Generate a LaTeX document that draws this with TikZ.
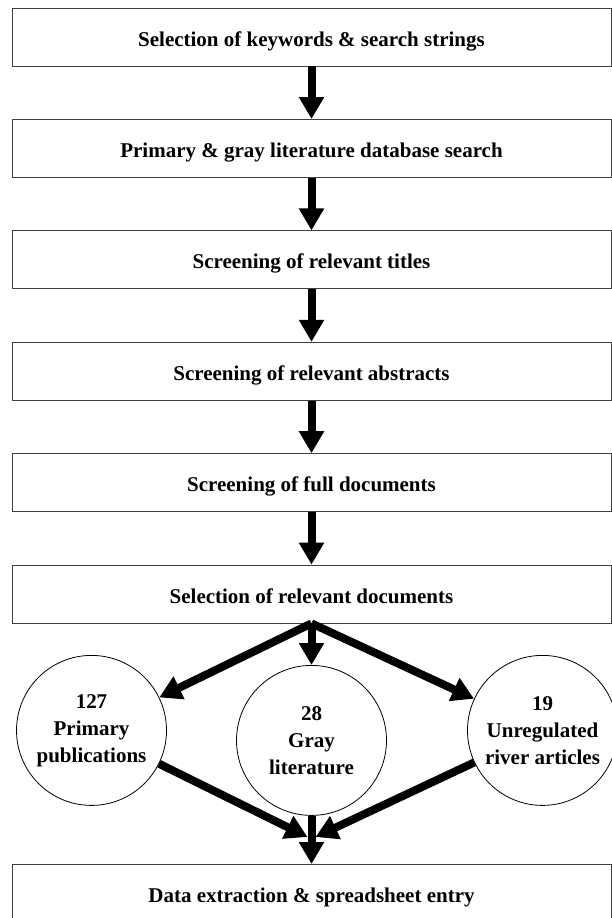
\documentclass[tikz,border=0pt]{standalone}
\usepackage{fontspec}
\setmainfont{Liberation Serif}
\usepackage{tikz}
\usetikzlibrary{arrows.meta,positioning,calc}
\tikzstyle{stage} = [draw=black!75, line width=0.8pt, fill=white,
  minimum width=599pt, minimum height=58pt, text centered,
  text height=20pt, text depth=2pt,
  font=\bfseries\fontsize{21}{26}\selectfont]
\tikzstyle{pool} = [circle, draw, line width=0.8pt, fill=white,
  minimum size=150pt, inner sep=0pt, align=center,
  font=\bfseries\fontsize{21}{27}\selectfont]
\tikzstyle{line} = [draw, line width=8pt, -{Triangle[width=24pt,length=22pt]}]
\newcommand{\stage}[2]{node (s#1)[stage]{#2}}

\begin{document}
\begin{tikzpicture}[x=1pt,y=1pt]

  \useasboundingbox (0,0) rectangle (612,-918);

  % Draw diagram elements

  \path (311.5,-37) \stage{1}{Selection of keywords \& search strings};
  \path (s1.south)+(0,-82pt) \stage{2}{Primary \& gray literature database search};
  \path (s2.south)+(0,-82pt) \stage{3}{Screening of relevant titles};
  \path (s3.south)+(0,-82pt) \stage{4}{Screening of relevant abstracts};
  \path (s4.south)+(0,-82pt) \stage{5}{Screening of full documents};
  \path (s5.south)+(0,-82pt) \stage{6}{Selection of relevant documents};

  \path (s6.south)+(-220pt,-104pt) node (c1)[pool, yshift=-3pt] {127\\Primary\\publications};
  \path (s6.south)+(0pt,-117pt) node (c2)[pool] {28\\Gray\\literature};
  \path (s6.south)+(231pt,-104pt) node (c3)[pool, yshift=-3pt] {19\\Unregulated\\river articles};

  \path (s6.south)+(0,-270pt) \stage{7}{Data extraction \& spreadsheet entry};
  \coordinate (jn) at ($(s7.north)+(0,27pt)$);

  % Draw arrows between elements

  \path [line] (s1.south) -- (s2);
  \path [line] (s2.south) -- (s3);
  \path [line] (s3.south) -- (s4);
  \path [line] (s4.south) -- (s5);
  \path [line] (s5.south) -- (s6);

  \path [line] (s6.south) -- (c1);
  \path [line] (s6.south) -- (c2);
  \path [line] (s6.south) -- (c3);

  \path [line] (c1) -- ([xshift=-4pt]jn);
  \path [line] (c3) -- ([xshift=4pt]jn);
  \path [line] (c2.south) -- (s7);

\end{tikzpicture}
\end{document}
